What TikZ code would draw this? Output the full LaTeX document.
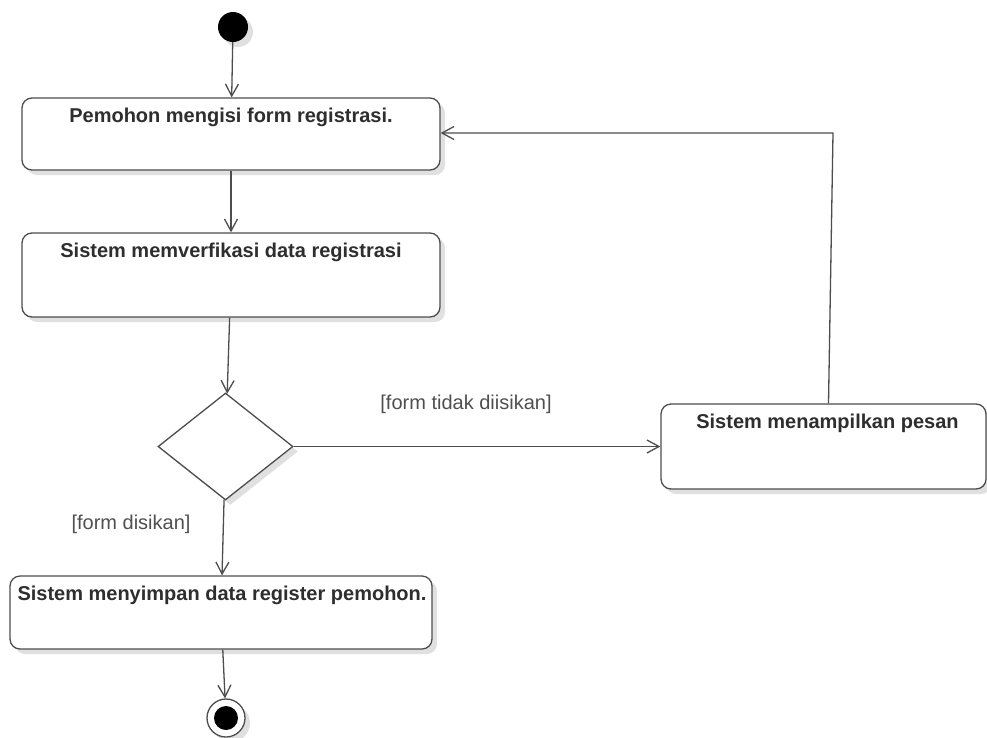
\documentclass[tikz,border=0pt]{standalone}
\usepackage{fontspec}
\setmainfont{Liberation Sans}
\usetikzlibrary{arrows.meta,shapes.geometric,shadows}
\definecolor{linegray}{HTML}{4D4D4D}
\definecolor{textdark}{HTML}{2E2E2E}
\definecolor{labelgray}{HTML}{4F4F4F}
\tikzset{
  shade/.style={drop shadow={shadow xshift=5pt,shadow yshift=-5pt,opacity=0.12,fill=black}},
  actbox/.style={draw=linegray,line width=1.3pt,rounded corners=10pt,fill=white,shade,inner sep=0pt},
  boxtext/.style={anchor=north,inner sep=0pt,yshift=-10.5pt,font=\fontsize{20}{24}\selectfont\bfseries,text=textdark},
  guard/.style={inner sep=0pt,font=\fontsize{20}{24}\selectfont,text=labelgray},
  flow/.style={draw=linegray,line width=1.3pt,-{Straight Barb[length=12pt,width=13pt,line width=1.3pt]}},
}
\begin{document}
\begin{tikzpicture}[x=1pt,y=-1pt]
\useasboundingbox (0,0) rectangle (987,737);
\node[circle,fill=black,minimum size=30pt,inner sep=0pt,shade] (start) at (233,27) {};
\node[actbox,minimum width=418pt,minimum height=72pt,
  label={[boxtext]north:Pemohon mengisi form registrasi.}] (b1) at (231,134) {};
\node[actbox,minimum width=418pt,minimum height=84pt,
  label={[boxtext]north:Sistem memverfikasi data registrasi}] (b2) at (231,275) {};
\node[diamond,draw=linegray,line width=1.3pt,fill=white,shade,inner sep=0pt,
  minimum width=135pt,minimum height=107pt] (dec) at (225.5,446.5) {};
\node[actbox,minimum width=325pt,minimum height=85pt,
  label={[boxtext,xshift=4pt]north:Sistem menampilkan pesan}] (b3) at (823.5,446.5) {};
\node[actbox,minimum width=422pt,minimum height=73pt,
  label={[boxtext,xshift=1pt]north:Sistem menyimpan data register pemohon.}] (b4) at (221,612.5) {};
\node[circle,draw=linegray,line width=1.3pt,fill=white,minimum size=38pt,inner sep=0pt,shade] (end) at (226,718) {};
\node[circle,fill=black,minimum size=24pt,inner sep=0pt] (endin) at (end) {};
\node[guard] (g1) at (466,404) {[form tidak diisikan]};
\node[guard] (g2) at (131,524) {[form disikan]};
\coordinate (bend) at (833,133);
\draw[flow] (start) -- (b1);
\draw[flow] (b1) -- (b2);
\draw[flow] (b2) -- (dec);
\draw[flow] (dec) -- (b3);
\draw[flow] ([xshift=5pt]b3.north) -- (bend) -- (b1.east |- bend);
\draw[flow] (dec) -- (b4);
\draw[flow] (b4) -- (end);
\end{tikzpicture}
\end{document}
